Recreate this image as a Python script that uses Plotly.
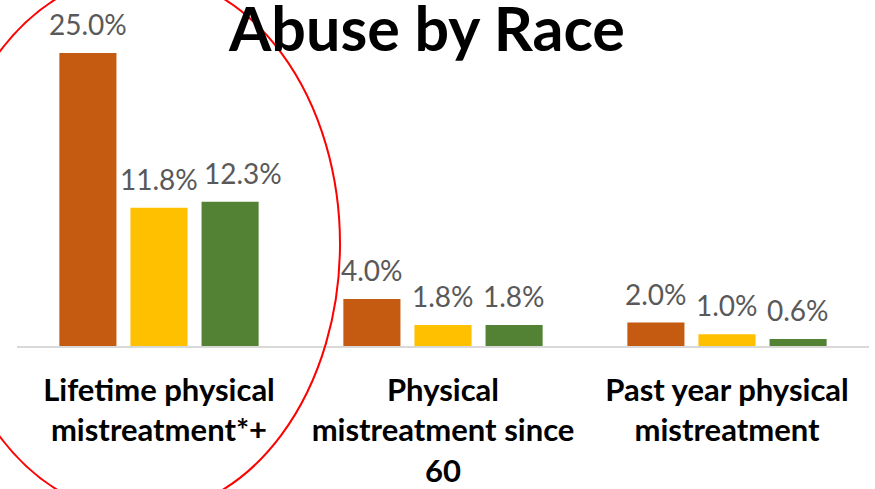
import plotly.graph_objects as go

# ---- data ----
categories = [
    "Lifetime physical<br>mistreatment*+",
    "Physical<br>mistreatment since<br>60",
    "Past year physical<br>mistreatment",
]
series_names = ["Group A", "Group B", "Group C"]
series_a = [25.0, 4.0, 2.0]
series_b = [11.8, 1.8, 1.0]
series_c = [12.3, 1.8, 0.6]
colors = ["#C55A11", "#FFC000", "#548235"]

# ---- layout constants ----
W, H = 875, 489
ML, MR, MT, MB = 17, 6, 40, 143
PW = W - ML - MR
PH = H - MT - MB
PX_PER_PCT = 11.72
YMAX = PH / PX_PER_PCT
SLOT_PX = 71  # pixel distance between bars inside a group
# label nudges (series index, category index) -> extra x shift in px
LABEL_NUDGE = {(2, 0): 13}

FONT = "Lato"

fig = go.Figure()
all_series = [series_a, series_b, series_c]
for name, vals, col in zip(series_names, all_series, colors):
    fig.add_trace(go.Bar(
        x=categories, y=vals, name=name,
        marker=dict(color=col, line=dict(width=0)),
        showlegend=False,
    ))

annotations = []
for i, vals in enumerate(all_series):
    for j, (cat, v) in enumerate(zip(categories, vals)):
        annotations.append(dict(
            x=cat, y=v, xref="x", yref="y",
            text=f"{v:.1f}%", showarrow=False,
            xshift=(i - 1) * SLOT_PX + LABEL_NUDGE.get((i, j), 0), yshift=10,
            yanchor="bottom", xanchor="center",
            font=dict(family=FONT, size=28, color="#595959"),
        ))


def px_to_paper_x(px):
    return (px - ML) / PW


def px_to_paper_y(py):
    return (H - MB - py) / PH


fig.add_shape(
    type="circle", xref="paper", yref="paper",
    x0=px_to_paper_x(-60), x1=px_to_paper_x(340),
    y0=px_to_paper_y(514), y1=px_to_paper_y(-26),
    line=dict(color="#FF0000", width=2), fillcolor="rgba(0,0,0,0)",
    layer="above",
)

fig.update_layout(
    width=W, height=H,
    margin=dict(l=ML, r=MR, t=MT, b=MB, autoexpand=False),
    paper_bgcolor="white", plot_bgcolor="white",
    barmode="group", bargap=0.249, bargroupgap=0.197,
    title=dict(
        text="<b>Abuse by Race</b>",
        x=427 / W, xanchor="center", xref="container",
        y=1 - 30 / H, yanchor="middle", yref="container",
        font=dict(family=FONT, size=61, color="black"),
    ),
    annotations=annotations,
    xaxis=dict(
        showline=True, linecolor="#D9D9D9", linewidth=1.5,
        showgrid=False, zeroline=False, automargin=False,
        ticks="outside", ticklen=16, tickcolor="rgba(0,0,0,0)",
        tickfont=dict(family=FONT, size=31, color="black", weight="bold"),
    ),
    yaxis=dict(
        range=[0, YMAX], visible=False, showgrid=False, zeroline=False,
        automargin=False,
    ),
)

fig.write_html(
    "out.html",
    config={"displayModeBar": False},
    post_script="document.body.style.margin='0';",
)
